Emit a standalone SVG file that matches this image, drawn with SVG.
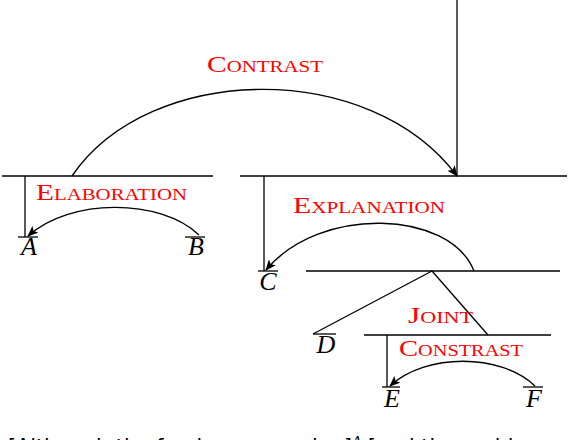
<svg xmlns="http://www.w3.org/2000/svg" width="568" height="440" viewBox="0 0 568 440">
<style>
.ln{stroke:#000;stroke-width:1.3;fill:none}
.arc{stroke:#000;stroke-width:1.4;fill:none;marker-end:url(#ah)}
.rel{fill:#ff0000;font-family:"Liberation Serif",serif;font-size:24px;font-variant:small-caps}
.leaf{fill:#000;font-family:"Liberation Serif",serif;font-style:italic;font-size:26px;text-anchor:middle}
.cap{fill:#000;font-family:"DejaVu Sans",sans-serif;font-size:20.7px}
</style>
<defs>
<marker id="ah" markerWidth="11" markerHeight="9" refX="10" refY="4.5" orient="auto" markerUnits="userSpaceOnUse">
<path d="M0,0 L11,4.5 L0,9 L2.5,4.5 Z" fill="#000"/>
</marker>
</defs>
<rect width="568" height="440" fill="#fff"/>
<g id="root"><line class="ln" x1="457" y1="0" x2="457" y2="176"/></g>
<g id="span-AB"><line class="ln" x1="2" y1="176" x2="213" y2="176"/></g>
<g id="span-CF"><line class="ln" x1="240" y1="176" x2="567" y2="176"/></g>
<g id="span-DF"><line class="ln" x1="306" y1="271" x2="560" y2="271"/></g>
<g id="span-EF"><line class="ln" x1="364" y1="335" x2="551" y2="335"/></g>
<g id="leaf-A"><line class="ln" x1="18" y1="237" x2="38" y2="237"/><text class="leaf" x="29" y="255">A</text></g>
<g id="leaf-B"><line class="ln" x1="185" y1="237" x2="205" y2="237"/><text class="leaf" x="196" y="255">B</text></g>
<g id="leaf-C"><line class="ln" x1="258" y1="271" x2="278" y2="271"/><text class="leaf" x="268" y="290">C</text></g>
<g id="leaf-D"><line class="ln" x1="313" y1="334" x2="336" y2="334"/><text class="leaf" x="326" y="353">D</text></g>
<g id="leaf-E"><line class="ln" x1="382" y1="387" x2="400" y2="387"/><text class="leaf" x="392" y="407">E</text></g>
<g id="leaf-F"><line class="ln" x1="523" y1="387" x2="543" y2="387"/><text class="leaf" x="534" y="407">F</text></g>
<g id="connectors">
<line class="ln" x1="25" y1="176" x2="25" y2="237"/>
<line class="ln" x1="264" y1="176" x2="264" y2="271"/>
<line class="ln" x1="387" y1="335" x2="387" y2="387"/>
<line class="ln" x1="432" y1="271" x2="313" y2="334"/>
<line class="ln" x1="432" y1="271" x2="488" y2="335"/>
<path class="arc" d="M72,176 C150,62 370,59 457,176"/>
<path class="arc" d="M199,235 C160,198 70,198 28,236"/>
<path class="arc" d="M474,271 C450,210 320,205 266,270"/>
<path class="arc" d="M535,386 C500,353 426,353 390,386"/>
</g>
<g id="labels">
<text class="rel" x="207" y="72" textLength="116" lengthAdjust="spacingAndGlyphs">Contrast</text>
<text class="rel" x="36" y="200" textLength="151" lengthAdjust="spacingAndGlyphs">Elaboration</text>
<text class="rel" x="293" y="213" textLength="152" lengthAdjust="spacingAndGlyphs">Explanation</text>
<text class="rel" x="408" y="323" textLength="65" lengthAdjust="spacingAndGlyphs">Joint</text>
<text class="rel" x="399" y="356" textLength="124" lengthAdjust="spacingAndGlyphs">Constrast</text>
</g>
<text class="cap" x="8" y="453.5">[Although the food was amazing]<tspan dy="-8" font-size="15" font-family="Liberation Serif,serif" font-style="italic">A</tspan><tspan dy="8"> [and the ambiance</tspan></text>
</svg>
